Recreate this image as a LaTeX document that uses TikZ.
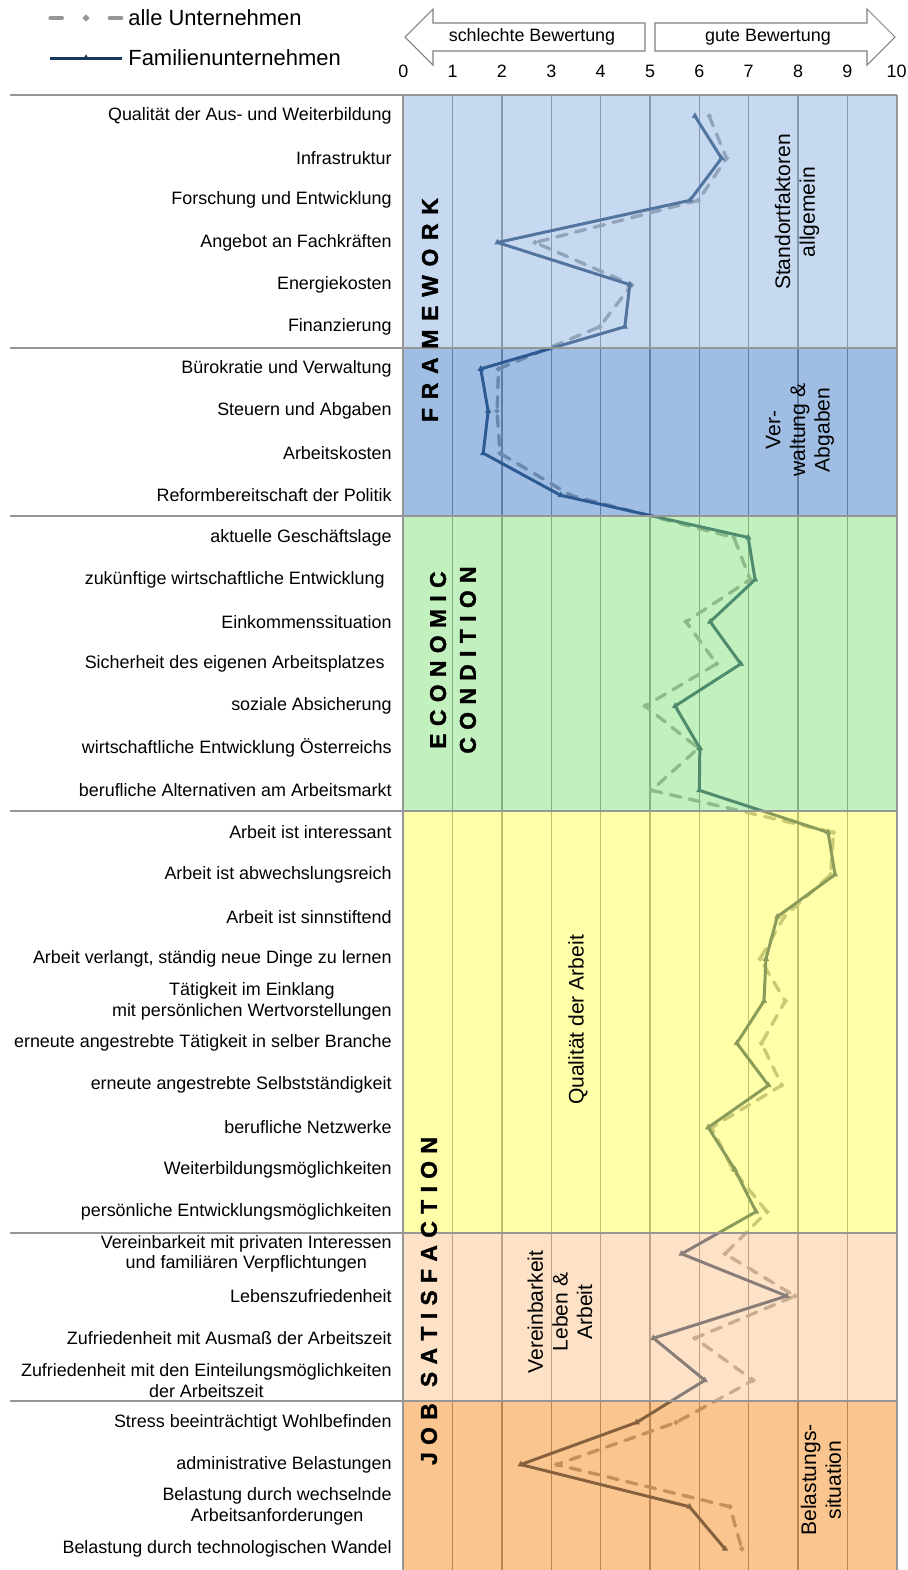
\documentclass[tikz,border=0pt]{standalone}
\usepackage{fontspec}
\setmainfont{Liberation Sans}
\newfontfamily\sectfamily[BoldFeatures={FakeBold=1.5}]{Liberation Sans}
\usetikzlibrary{calc, shapes.geometric}
\definecolor{famLine}{RGB}{23,55,94}
\definecolor{allLine}{RGB}{150,150,150}
\definecolor{gridGray}{RGB}{128,128,128}
\definecolor{frameGray}{RGB}{150,150,150}
\definecolor{bandStandort}{RGB}{141,179,227}
\definecolor{bandVerwaltung}{RGB}{65,125,201}
\definecolor{bandEconomic}{RGB}{133,225,125}
\definecolor{bandQualitaet}{RGB}{255,255,85}
\definecolor{bandVereinbar}{RGB}{251,197,145}
\definecolor{bandBelastung}{RGB}{245,139,29}
\newcommand{\sectfont}{\sectfamily\bfseries\fontsize{13}{17}\selectfont\spaceskip=4.2pt\relax}

\tikzset{
  rowlabel/.style={anchor=east, align=center, inner sep=0pt, font=\fontsize{10.2}{11.9}\selectfont},
  grouplabel/.style={rotate=90, align=center, inner sep=0pt, font=\fontsize{12}{14}\selectfont},
  sectlabel/.style={rotate=90, align=center, inner sep=0pt, font=\sectfont},
  famline/.style={famLine, line width=1.7pt, line join=round},
  allline/.style={allLine, line width=1.9pt, dash pattern=on 6pt off 5pt, line cap=round, line join=round},
  fammark/.style={regular polygon, regular polygon sides=3, fill=famLine, inner sep=0pt, minimum size=0.15cm},
  allmark/.style={diamond, fill=allLine, inner sep=0pt, minimum size=0.15cm},
  gridline/.style={gridGray, line width=0.6pt},
  frameline/.style={frameGray, line width=1.2pt},
  hdrarrow/.style={draw=gray, line width=0.6pt, fill=white, line join=miter},
  hdrtext/.style={inner sep=0pt, font=\fontsize{10.2}{12}\selectfont},
  legendtext/.style={anchor=west, inner sep=0pt, font=\fontsize{12.5}{14}\selectfont}
}

\begin{document}
\begin{tikzpicture}[x=0.02cm, y=-0.02cm]
  \useasboundingbox (0,0) rectangle (907,1570);

  % legend
  \coordinate (lgA1) at (50,18);
  \coordinate (lgA2) at (122,18);
  \coordinate (lgF1) at (50,58);
  \coordinate (lgF2) at (122,58);
  \draw[allline, dash pattern=on 7pt off 26.8pt] (lgA1) -- (lgA2);
  \node[allmark] at ($(lgA1)!0.5!(lgA2)$) {};
  \draw[famline] (lgF1) -- (lgF2);
  \node[fammark] at ($(lgF1)!0.5!(lgF2)$) {};
  \node[legendtext] (lgAtext) at (128,18) {alle Unternehmen};
  \node[legendtext] (lgFtext) at (128,58) {Familienunternehmen};

  % header arrows and scale
  \draw[hdrarrow] (405,37) -- (433,9) -- (433,23) -- (645,23) -- (645,51) -- (433,51) -- (433,65) -- cycle;
  \draw[hdrarrow] (895,37) -- (867,9) -- (867,23) -- (655,23) -- (655,51) -- (867,51) -- (867,65) -- cycle;
  \node[hdrtext] (bad) at (532,37) {schlechte Bewertung};
  \node[hdrtext] (good) at (768,37) {gute Bewertung};
  \foreach \k in {0,...,10}
    \node[hdrtext] (tick\k) at ({403.3+49.34*\k},71) {\k};

  % grid
  \foreach \k in {1,...,9}
    \draw[gridline] ({403.3+49.34*\k},95) -- ({403.3+49.34*\k},1570);

  % data
  \foreach \v [count=\i] in {5.91,6.45,5.81,1.91,4.59,4.49,1.57,1.72,1.62,3.19,
      6.99,7.13,6.22,6.84,5.51,6.01,6.00,8.61,8.75,7.58,7.35,7.31,6.76,7.40,6.18,
      6.72,7.15,5.64,7.77,5.07,6.11,4.73,2.38,5.80,6.52}
    \coordinate (f\i) at ({403.3+49.34*\v},{95+(\i-0.5)*42.14});
  \foreach \v [count=\i] in {6.20,6.55,5.98,2.67,4.63,3.98,1.93,1.90,1.96,3.39,
      6.70,7.03,5.73,6.35,4.90,5.98,5.03,8.72,8.66,7.72,7.23,7.74,7.26,7.67,6.25,
      6.68,7.37,6.52,7.94,5.91,7.09,5.53,3.11,6.62,6.86}
    \coordinate (a\i) at ({403.3+49.34*\v},{95+(\i-0.5)*42.14});
  \draw[allline] (a1) \foreach \i in {2,...,35} {-- (a\i)};
  \foreach \i in {1,...,35} \node[allmark, scale=0.8] at (a\i) {};
  \draw[famline] (f1) \foreach \i in {2,...,35} {-- (f\i)};
  \foreach \i in {1,...,35} \node[fammark] at (f\i) {};

  % bands
  \foreach \from/\to/\col in {0/6/bandStandort, 6/10/bandVerwaltung, 10/17/bandEconomic,
      17/27/bandQualitaet, 27/31/bandVereinbar, 31/35/bandBelastung} {
    \fill[\col, fill opacity=0.5] (403.3,{95+\from*42.14}) rectangle (896.7,{95+\to*42.14});
    \draw[frameline] (10,{95+\from*42.14}) -- (896.7,{95+\from*42.14});
  }
  \draw[frameline] (403.3,95) -- (403.3,1570);
  \draw[frameline] (896.7,95) -- (896.7,1570);

  % row labels
  \foreach \i/\txt in {
      1/{Qualität der Aus- und Weiterbildung}, 2/{Infrastruktur},
      3/{Forschung und Entwicklung}, 4/{Angebot an Fachkräften},
      5/{Energiekosten}, 6/{Finanzierung},
      7/{Bürokratie und Verwaltung}, 8/{Steuern und Abgaben},
      9/{Arbeitskosten}, 10/{Reformbereitschaft der Politik},
      11/{aktuelle Geschäftslage}, 12/{zukünftige wirtschaftliche Entwicklung\hspace{4pt}},
      13/{Einkommenssituation}, 14/{Sicherheit des eigenen Arbeitsplatzes\hspace{4pt}},
      15/{soziale Absicherung}, 16/{wirtschaftliche Entwicklung Österreichs},
      17/{berufliche Alternativen am Arbeitsmarkt},
      18/{Arbeit ist interessant}, 19/{Arbeit ist abwechslungsreich},
      20/{Arbeit ist sinnstiftend}, 21/{Arbeit verlangt, ständig neue Dinge zu lernen},
      22/{Tätigkeit im Einklang\\mit persönlichen Wertvorstellungen},
      23/{erneute angestrebte Tätigkeit in selber Branche},
      24/{erneute angestrebte Selbstständigkeit}, 25/{berufliche Netzwerke},
      26/{Weiterbildungsmöglichkeiten}, 27/{persönliche Entwicklungsmöglichkeiten},
      28/{Vereinbarkeit mit privaten Interessen\\und familiären Verpflichtungen},
      29/{Lebenszufriedenheit}, 30/{Zufriedenheit mit Ausmaß der Arbeitszeit},
      31/{Zufriedenheit mit den Einteilungsmöglichkeiten\\der Arbeitszeit},
      32/{Stress beeinträchtigt Wohlbefinden}, 33/{administrative Belastungen},
      34/{Belastung durch wechselnde\\Arbeitsanforderungen},
      35/{Belastung durch technologischen Wandel}}
    \node[rowlabel] (row\i) at (392,{95+(\i-0.5)*42.14}) {\txt};

  % section and group labels
  \node[sectlabel] (framework) at (430,310) {\spaceskip=5pt\relax F R A M E W O R K};
  \node[sectlabel] (economic) at (453,660) {E C O N O M I C\\C O N D I T I O N};
  \node[sectlabel] (jobsat) at (429,1301) {J O B\hspace{5pt} S A T I S F A C T I O N};
  \node[grouplabel] (standort) at (797,212) {Standortfaktoren\\allgemein};
  \node[grouplabel] (verwaltung) at (800,430) {Ver-\\waltung \&\\Abgaben};
  \node[grouplabel] (qualitaet) at (578,1020) {Qualität der Arbeit};
  \node[grouplabel] (vereinbar) at (560,1312) {Vereinbarkeit\\Leben \&\\Arbeit};
  \node[grouplabel] (belastung) at (821,1480) {Belastungs-\\situation};
\end{tikzpicture}
\end{document}
